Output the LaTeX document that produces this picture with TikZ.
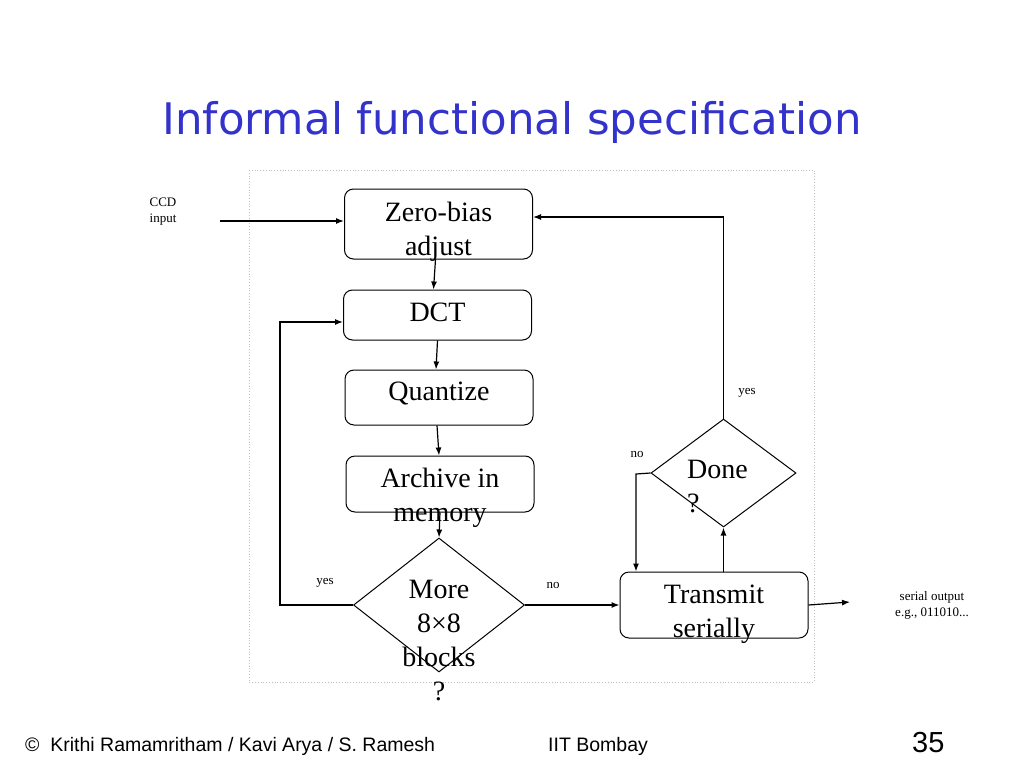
\documentclass[tikz,border=0pt]{standalone}
\usepackage{fontspec}
\setmainfont{Liberation Serif}
\newfontfamily\footfont{Liberation Sans}
\newfontfamily\titlefont{DejaVu Sans}
\usepackage{tikz}
\usetikzlibrary{shapes.geometric,arrows.meta,positioning}
\definecolor{titleblue}{RGB}{51,51,204}

\begin{document}
\begin{tikzpicture}[x=1pt,y=-1pt,
    procbox/.style={draw,rounded corners=9pt,line width=1pt,inner sep=0pt,minimum width=188pt},
    decision/.style={draw,diamond,line width=1pt,inner sep=0pt},
    bigtext/.style={inner sep=0pt,align=center,font=\fontsize{28}{34}\selectfont},
    smalltext/.style={inner sep=0pt,align=center,font=\fontsize{13}{16}\selectfont},
    flow/.style={line width=1.2pt,-{Latex[length=8pt,width=6pt]}}]
    \useasboundingbox (0,0) rectangle (1024,768);
    \node[text=titleblue,font=\titlefont\fontsize{43.5}{48}\selectfont] (title) at (512,122) {Informal functional specification};
    \draw[lightgray,dotted,line width=0.8pt] (249,170) rectangle (814,682);

    % boxes
    \node[procbox,minimum height=70pt] (zero) at (438.5,224) {};
    \node[procbox,minimum height=50pt] (dct) at (437.5,315) {};
    \node[procbox,minimum height=55pt] (quant) at (439,397.5) {};
    \node[procbox,minimum height=56pt] (archive) at (440,484) {};
    \node[procbox,minimum height=66pt] (trans) at (714,605) {};
    \node[decision,minimum width=171pt,minimum height=134pt] (more) at (439,605) {};
    \node[decision,minimum width=145pt,minimum height=108pt] (done) at (723.5,473) {};

    % texts of the boxes
    \node[bigtext,anchor=north,below=13pt of zero.north] (zerotext) {Zero-bias\\adjust};
    \node[bigtext,anchor=north,below=13pt of dct.north] (dcttext) {DCT};
    \node[bigtext,anchor=north,below=12pt of quant.north] (quanttext) {Quantize};
    \node[bigtext,anchor=north,below=12pt of archive.north] (archivetext) {Archive in\\memory};
    \node[bigtext,anchor=north,below=13pt of trans.north] (transtext) {Transmit\\serially};
    \node[bigtext,anchor=north] (moretext) at (439,580) {More\\8\texttimes8\\blocks\\?};
    \node[bigtext,align=left,anchor=north west] (donetext) at (687,460) {Done\\?};

    % small labels
    \node[smalltext] (ccdlabel) at (163,212) {CCD\\input};
    \node[smalltext] (moreyes) at (325,583) {yes};
    \node[smalltext] (moreno) at (553,585) {no};
    \node[smalltext] (doneyes) at (747,393) {yes};
    \node[smalltext] (doneno) at (637,454) {no};
    \node[smalltext] (outlabel) at (932,605) {serial output\\e.g., 011010...};

    % connectors
    \coordinate (ccdin) at (220,221);
    \coordinate (yescorner) at (280,605);
    \coordinate (nocorner) at (636,474);
    \coordinate (serialout) at (850,602);
    \draw[flow] (ccdin) -- (ccdin -| zero.west);
    \draw[flow] ([xshift=-3pt]zero.south) -- ([xshift=-4pt]dct.north);
    \draw[flow] (dct.south) -- ([xshift=-3pt]quant.north);
    \draw[flow] ([xshift=-2pt]quant.south) -- ([xshift=-1pt]archive.north);
    \draw[flow] (archive.south) -- (more.north);
    \draw[flow] (more.west) -- (yescorner) |- ([yshift=-7pt]dct.west);
    \draw[flow] (more.east) -- (more.east -| trans.west);
    \draw[flow] (done.south |- trans.north) -- (done.south);
    \draw[flow] (done.west) -- (nocorner) -- (nocorner |- trans.north);
    \draw[flow] (done.north) |- ([yshift=7pt]zero.east);
    \draw[flow] (trans.east) -- (serialout);

    % footer
    \node[font=\footfont\fontsize{19.5}{22}\selectfont,anchor=base west,inner sep=0pt] (credits) at (25,751) {\textcopyright\ \ Krithi Ramamritham / Kavi Arya / S. Ramesh};
    \node[font=\footfont\fontsize{19.5}{22}\selectfont,anchor=base west,inner sep=0pt] (inst) at (548,751) {IIT Bombay};
    \node[font=\footfont\fontsize{29}{32}\selectfont,anchor=base west,inner sep=0pt] (page) at (912,752) {35};
\end{tikzpicture}
\end{document}
